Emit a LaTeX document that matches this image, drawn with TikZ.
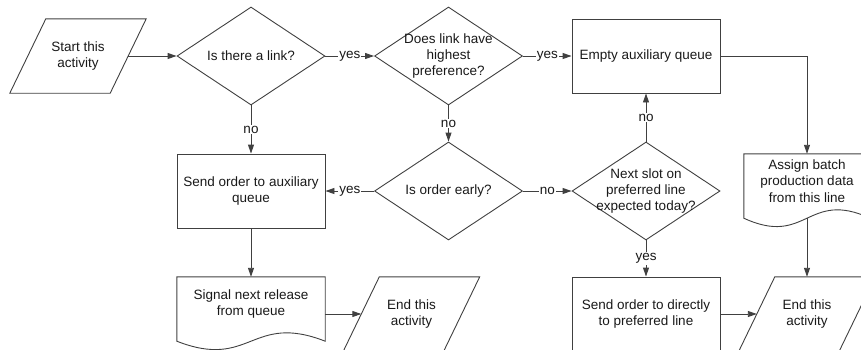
\documentclass[tikz,border=0pt]{standalone}
\usepackage{fontspec}
\setmainfont{Liberation Sans}
\usetikzlibrary{shapes.geometric,arrows.meta}
\newcommand\dataoutline[1]{\draw[outline] ([xshift=36pt]#1.north west) -- (#1.north east) -- ([xshift=-36pt]#1.south east) -- (#1.south west) -- cycle;}
\newcommand\docoutline[1]{\draw[outline] (#1.north west) -- (#1.north east) -- ([yshift=10pt]#1.south east) .. controls ([yshift=39pt]#1.south) and ([yshift=-19pt]#1.south) .. ([yshift=10pt]#1.south west) -- cycle;}
\begin{document}
\begin{tikzpicture}[x=1pt,y=-1pt,
  every node/.style={font=\fontsize{13.5pt}{16.3pt}\selectfont, text=black!90},
  outline/.style={draw=black!75, line width=0.9pt},
  proc/.style={outline, rectangle, minimum width=148pt, minimum height=74pt, inner sep=2pt, align=center},
  decision/.style={outline, diamond, minimum width=148pt, minimum height=98pt, inner sep=0pt},
  datashape/.style={rectangle, minimum width=136pt, minimum height=74pt, inner sep=0pt, align=center},
  docshape/.style={rectangle, minimum width=148pt, minimum height=74pt, inner sep=0pt},
  txt/.style={align=center, inner sep=0pt},
  flow/.style={draw=black!75, line width=0.9pt, -{Triangle[length=9pt,width=6pt]}},
  tag/.style={fill=white, inner sep=1pt}]
\useasboundingbox (0,0) rectangle (861,349);
\clip (0,0) rectangle (861,349);
% nodes
\node[datashape] (start) at (78,56) {Start this\\activity};
\node[decision, label={[txt]center:Is there a link?}] (d1) at (251,56) {};
\node[decision, label={[txt]center:Does link have\\highest\\preference?}] (d2) at (448.5,56) {};
\node[proc] (eaq) at (646,56) {Empty auxiliary queue};
\node[proc] (soa) at (251,191) {Send order to auxiliary\\queue};
\node[decision, label={[txt]center:Is order early?}] (d3) at (448.5,191) {};
\node[decision, label={[txt]center:Next slot on\\preferred line\\expected today?}] (d4) at (646,191) {};
\node[docshape, minimum width=126pt, label={[txt,yshift=10pt]center:Assign batch\\production data\\from this line}] (abd) at (807,191) {};
\node[docshape, label={[txt,yshift=10pt]center:Signal next release\\from queue}] (snr) at (251,314) {};
\node[datashape] (end1) at (411.5,314) {End this\\activity};
\node[proc] (sod) at (646,314) {Send order to directly\\to preferred line};
\node[datashape] (end2) at (807,314) {End this\\activity};
% outlines
\dataoutline{start}
\dataoutline{end1}
\dataoutline{end2}
\docoutline{abd}
\docoutline{snr}
% connectors
\draw[flow] ([xshift=-18pt]start.east) -- (d1.west);
\draw[flow] (d1.east) -- node[tag]{yes} (d2.west);
\draw[flow] (d1.south) -- node[tag]{no} (soa.north);
\draw[flow] (d2.east) -- node[tag]{yes} (eaq.west);
\draw[flow] (d2.south) -- node[tag]{no} (d3.north);
\draw[flow] (eaq.east) -| (abd.north);
\draw[flow] (d3.west) -- node[tag]{yes} (soa.east);
\draw[flow] (d3.east) -- node[tag]{no} (d4.west);
\draw[flow] (d4.north) -- node[tag]{no} (eaq.south);
\draw[flow] (d4.south) -- node[tag]{yes} (sod.north);
\draw[flow] (soa.south) -- (snr.north);
\draw[flow] (snr.east) -- ([xshift=18pt]end1.west);
\draw[flow] ([yshift=10pt]abd.south) -- (end2.north);
\draw[flow] (sod.east) -- ([xshift=18pt]end2.west);
\end{tikzpicture}
\end{document}
